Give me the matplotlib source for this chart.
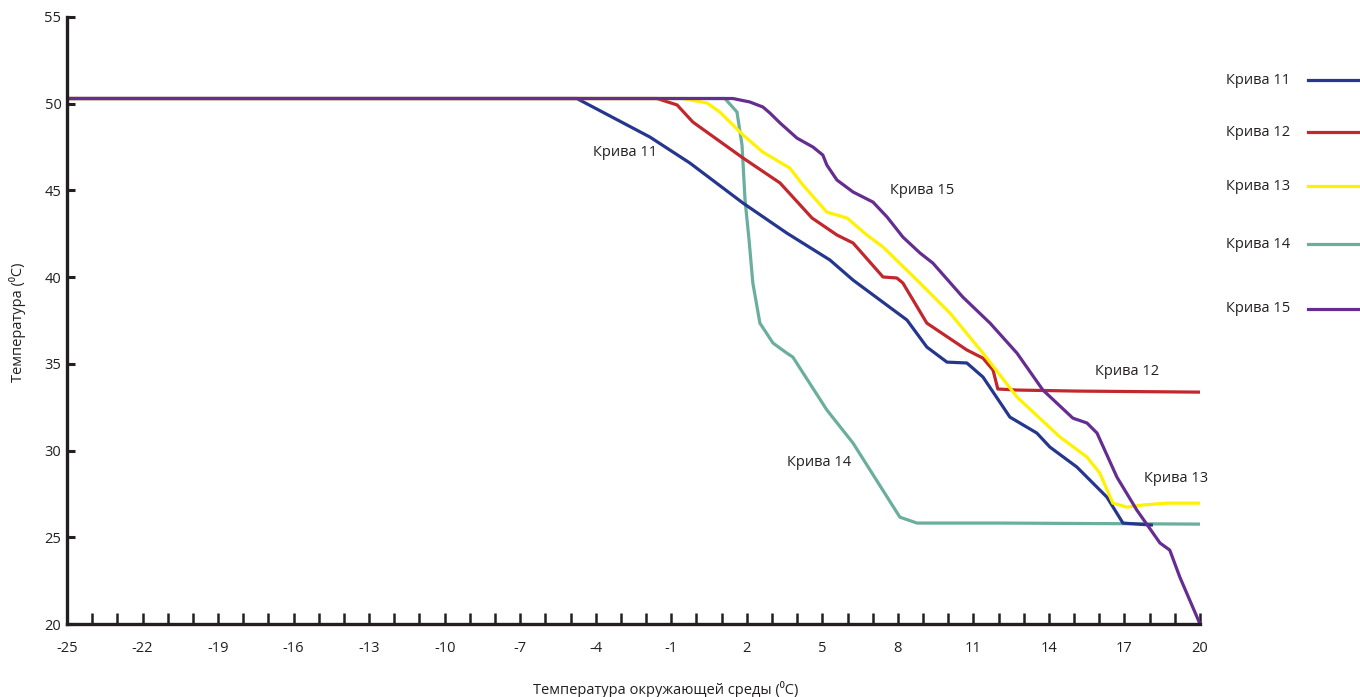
#!/usr/bin/env python3
"""
Кривые регулирования температуры теплоносителя
"""
import matplotlib
matplotlib.use('Agg')
import matplotlib.pyplot as plt
from matplotlib.lines import Line2D
import numpy as np

# Данные
x_11 = [-25, -4.75, -1.85, -0.26, 1.85, 3.59, 5.30, 6.22, 7.29, 8.36, 9.15, 9.95, 10.74,
        11.38, 12.45, 13.52, 14.04, 15.11, 16.30, 16.94, 18.13]
y_11 = [50.3, 50.3, 48.08, 46.58, 44.27, 42.54, 40.99, 39.83, 38.68, 37.53, 35.97, 35.10, 35.05,
        34.24, 31.93, 31.01, 30.20, 29.05, 27.32, 25.82, 25.70]

x_12 = [-25, -1.57, -0.77, -0.14, 1.85, 3.32, 4.59, 5.58, 6.22, 7.41, 7.96, 8.20, 9.15,
        10.74, 11.38, 11.78, 11.97, 12.73, 15.11, 20]
y_12 = [50.3, 50.3, 49.93, 48.94, 46.87, 45.43, 43.41, 42.43, 41.97, 40.01, 39.95, 39.66, 37.35,
        35.80, 35.33, 34.64, 33.55, 33.49, 33.43, 33.37]

x_13 = [-25, -0.54, 0.42, 0.93, 1.85, 2.64, 3.71, 4.23, 5.18, 5.98, 6.77, 7.41, 8.76, 10.07,
        11.38, 12.73, 14.44, 15.51, 16.02, 16.54, 17.10, 17.73, 18.69, 20]
y_13 = [50.3, 50.3, 50.04, 49.52, 48.20, 47.21, 46.29, 45.31, 43.75, 43.41, 42.43, 41.74, 39.83, 37.93,
        35.62, 33.09, 30.78, 29.63, 28.70, 26.97, 26.74, 26.86, 26.97, 26.97]

x_14 = [-25, 1.13, 1.61, 1.81, 1.93, 2.09, 2.24, 2.52, 3.04, 3.59, 3.83, 5.18, 6.22, 8.08,
        8.76, 12.05, 20]
y_14 = [50.3, 50.3, 49.52, 47.62, 44.45, 42.14, 39.66, 37.35, 36.20, 35.62, 35.39, 32.34, 30.43, 26.16,
        25.82, 25.82, 25.76]

x_15 = [-25, 1.45, 2.12, 2.64, 2.92, 3.32, 3.99, 4.63, 5.02, 5.18, 5.58, 6.22, 7.01, 7.57, 8.20,
        8.88, 9.39, 10.58, 11.66, 12.73, 13.76, 14.95, 15.51, 15.91, 16.70, 17.49, 18.41, 18.80,
        19.20, 20]
y_15 = [50.3, 50.3, 50.10, 49.81, 49.46, 48.89, 48.02, 47.50, 47.04, 46.46, 45.60, 44.91, 44.33, 43.47, 42.31,
        41.39, 40.81, 38.85, 37.35, 35.62, 33.49, 31.87, 31.59, 31.01, 28.47, 26.57, 24.67, 24.26,
        22.70, 20.0]

names = ['Крива 11', 'Крива 12', 'Крива 13', 'Крива 14', 'Крива 15']
colors = ['#25368f', '#c1272d', '#fff200', '#6aae9d', '#662d91']

x_ticks = list(range(-25, 21, 3))
y_ticks = list(range(20, 56, 5))

plt.rcParams['font.family'] = ['Open Sans', 'DejaVu Sans']
plt.rcParams['font.size'] = 10.5
ink = '#231f20'

fig = plt.figure(figsize=(13.6, 6.97), dpi=100)
ax = fig.add_axes([67 / 1360, 1 - 624 / 697, (1200 - 67) / 1360, (624 - 17) / 697])

# порядок отрисовки как на рисунке (фиолетовая сверху)
series = {0: (x_11, y_11), 1: (x_12, y_12), 2: (x_13, y_13), 3: (x_14, y_14), 4: (x_15, y_15)}
for i in [3, 0, 1, 2, 4]:
    xs, ys = series[i]
    ax.plot(xs, ys, color=colors[i], linewidth=2.3, solid_joinstyle='round',
            solid_capstyle='butt', clip_on=False)

ax.set_xlim(-25, 20)
ax.set_ylim(20, 55)

for side in ['top', 'right']:
    ax.spines[side].set_visible(False)
for side in ['left', 'bottom']:
    ax.spines[side].set_linewidth(2.4)
    ax.spines[side].set_color(ink)

ax.set_xticks(x_ticks)
ax.set_xticklabels([str(v) for v in x_ticks])
ax.set_xticks(list(range(-24, 21)), minor=True)
ax.tick_params(axis='x', which='both', direction='in', length=8, width=1.8, color=ink,
               pad=12, labelsize=10.5, labelcolor=ink)
ax.set_yticks(y_ticks)
ax.tick_params(axis='y', which='major', direction='in', length=6, width=2.2, color=ink,
               pad=4, labelsize=10.5, labelcolor=ink)

# подписи кривых
ax.text(-2.84, 47.16, 'Крива 11', ha='center', va='center', color=ink)
ax.text(8.96, 45.02, 'Крива 15', ha='center', va='center', color=ink)
ax.text(17.10, 34.58, 'Крива 12', ha='center', va='center', color=ink)
ax.text(19.04, 28.41, 'Крива 13', ha='center', va='center', color=ink)
ax.text(4.86, 29.34, 'Крива 14', ha='center', va='center', color=ink)

# легенда справа
leg_y = [80, 132, 186, 244, 309]
for name, col, py in zip(names, colors, leg_y):
    yf = 1 - py / 697
    fig.text(1290 / 1360, yf, name, ha='right', va='center', color=ink)
    fig.add_artist(Line2D([1308 / 1360, 1359 / 1360], [yf, yf], color=col, linewidth=2.3,
                          transform=fig.transFigure))

fig.text(18 / 1360, 1 - 322 / 697, 'Температура (⁰C)', rotation=90, ha='center', va='center',
         color=ink)
fig.text(666 / 1360, 1 - 689 / 697, 'Температура окружающей среды (⁰C)', ha='center',
         va='center', color=ink)

plt.savefig('out.png', dpi=100, facecolor='white')
plt.close()
